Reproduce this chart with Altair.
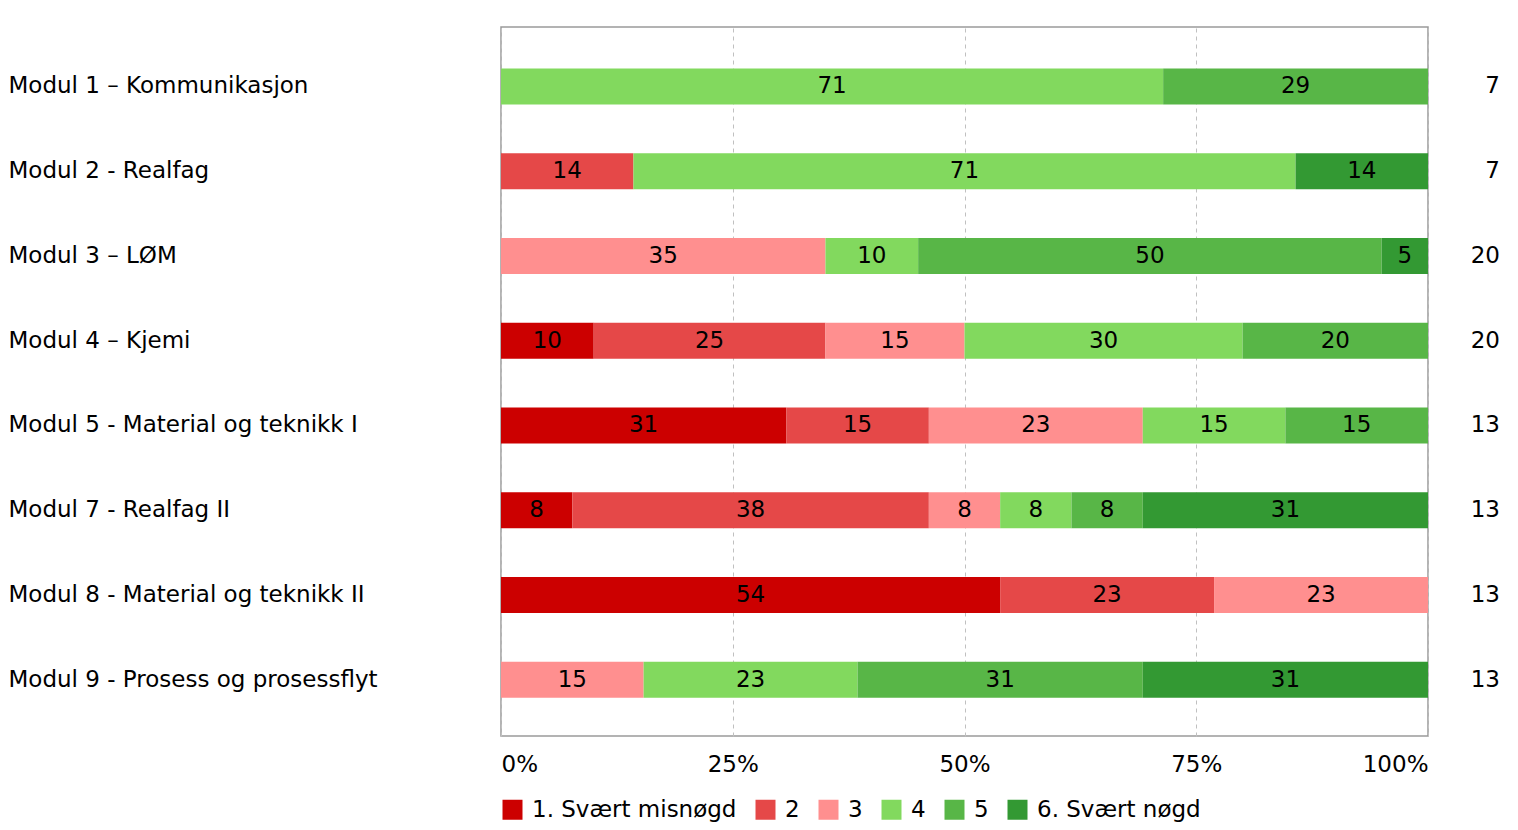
import altair as alt
import pandas as pd

modules = [
    "Modul 1 – Kommunikasjon",
    "Modul 2 - Realfag",
    "Modul 3 – LØM",
    "Modul 4 – Kjemi",
    "Modul 5 - Material og teknikk I",
    "Modul 7 - Realfag II",
    "Modul 8 - Material og teknikk II",
    "Modul 9 - Prosess og prosessflyt",
]
n_values = [7, 7, 20, 20, 13, 13, 13, 13]

categories = ["1. Svært misnøgd", "2", "3", "4", "5", "6. Svært nøgd"]
colors = ["#cc0000", "#e54848", "#ff8f8f", "#82d95e", "#58b647", "#339933"]

# respondent counts per category (rows) and module (columns)
cat1 = [0, 0, 0, 2, 4, 1, 7, 0]
cat2 = [0, 1, 0, 5, 2, 5, 3, 0]
cat3 = [0, 0, 7, 3, 3, 1, 3, 2]
cat4 = [5, 5, 2, 6, 2, 1, 0, 3]
cat5 = [2, 0, 10, 4, 2, 1, 0, 4]
cat6 = [0, 1, 1, 0, 0, 4, 0, 4]
counts = [cat1, cat2, cat3, cat4, cat5, cat6]

rows = []
for ci, cat in enumerate(categories):
    for mi, m in enumerate(modules):
        c = counts[ci][mi]
        if c > 0:
            rows.append({"module": m, "category": cat, "order": ci, "count": c})
df = pd.DataFrame(rows)
ndf = pd.DataFrame({"module": modules, "n": n_values})

FONT = "DejaVu Sans"
FS = 23

y = alt.Y(
    "module:N",
    sort=modules,
    title=None,
    scale=alt.Scale(paddingInner=0.575, paddingOuter=0.47, align=0.52),
    axis=alt.Axis(
        labelAlign="left",
        labelPadding=493,
        ticks=False,
        domain=False,
        labelFontSize=FS,
        labelFont=FONT,
        labelColor="black",
        labelLimit=0,
    ),
)

base = (
    alt.Chart(df)
    .transform_joinaggregate(total="sum(count)", groupby=["module"])
    .transform_stack(
        stack="count",
        groupby=["module"],
        sort=[alt.SortField("order")],
        as_=["x0", "x1"],
        offset="normalize",
    )
    .transform_calculate(
        mid="(datum.x0 + datum.x1) / 2",
        pct="round(datum.count / datum.total * 100)",
    )
)

bars = base.mark_bar().encode(
    y=y,
    x=alt.X(
        "x0:Q",
        title=None,
        scale=alt.Scale(domain=[0, 1], nice=False),
        axis=alt.Axis(
            values=[0, 0.25, 0.5, 0.75, 1],
            format="%",
            labelFlush=True,
            ticks=False,
            domain=False,
            grid=True,
            gridDash=[4, 4],
            gridColor="#c0c0c0",
            gridWidth=1,
            labelFontSize=FS,
            labelFont=FONT,
            labelColor="black",
            labelPadding=17,
        ),
    ),
    x2="x1:Q",
    color=alt.Color(
        "category:N",
        scale=alt.Scale(domain=categories, range=colors),
        legend=alt.Legend(
            title=None,
            orient="bottom",
            direction="horizontal",
            symbolType="square",
            symbolSize=400,
            symbolStrokeWidth=0,
            symbolOpacity=1,
            labelFontSize=FS,
            labelFont=FONT,
            labelColor="black",
            labelOffset=8,
            labelLimit=0,
            columnPadding=17,
            offset=22,
        ),
    ),
)

text = base.mark_text(fontSize=FS, font=FONT, color="black").encode(
    y=y, x="mid:Q", text="pct:Q"
)

ntext = alt.Chart(ndf).mark_text(
    align="right", fontSize=FS, font=FONT, color="black"
).encode(y=y, x=alt.value(999), text="n:Q")

chart = (
    alt.layer(bars, text, ntext)
    .properties(
        width=927,
        height=709,
        padding={"left": 0, "top": 19, "right": 5, "bottom": 5},
    )
    .configure(font=FONT)
    .configure_view(stroke="#9a9a9a", strokeWidth=1.5)
)

chart.save("out.html", embed_options={"renderer": "svg", "actions": False})
